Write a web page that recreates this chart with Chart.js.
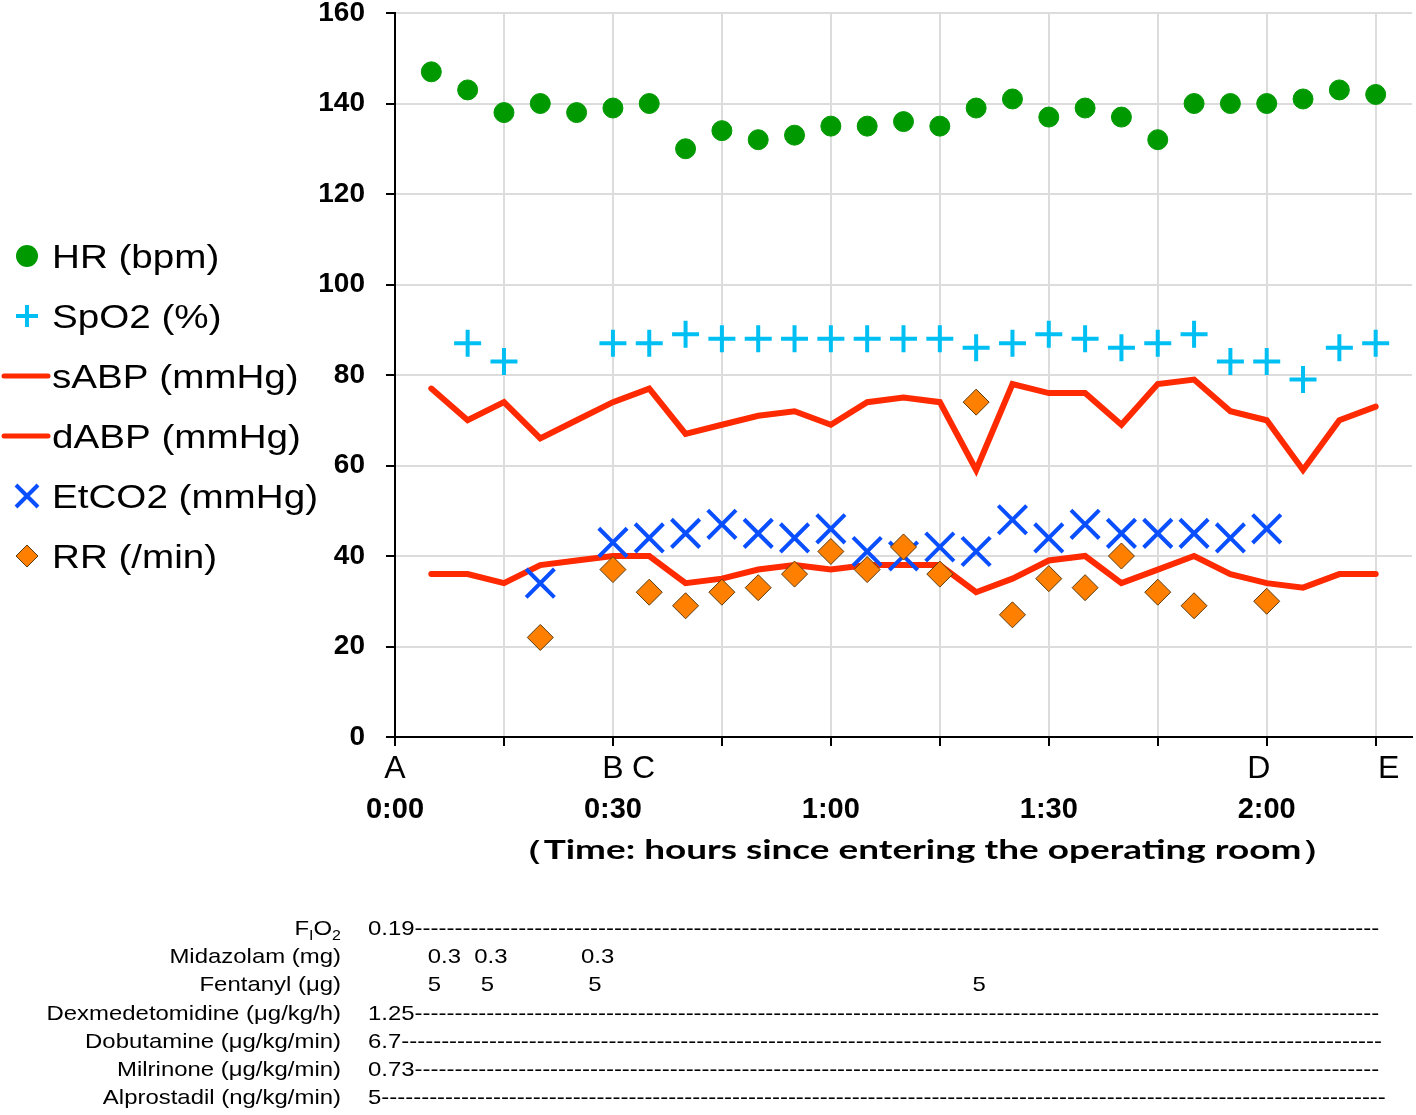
<!DOCTYPE html>
<html>
<head>
<meta charset="utf-8">
<script src="https://cdn.jsdelivr.net/npm/chart.js@4.4.1/dist/chart.umd.min.js"></script>
<style>
  html, body { margin: 0; padding: 0; background: #fff; }
  #wrap { width: 1416px; height: 1115px; }
</style>
</head>
<body>
<div id="wrap"><canvas id="vitals" width="1416" height="1115"></canvas></div>
<script>
// minutes since entering the operating room, one reading every 5 min
const minutes = [5, 10, 15, 20, 25, 30, 35, 40, 45, 50, 55, 60, 65, 70, 75, 80, 85, 90, 95, 100, 105, 110, 115, 120, 125, 130, 135];

const hr    = [147, 143, 138, 140, 138, 139, 140, 130, 134, 132, 133, 135, 135, 136, 135, 139, 141, 137, 139, 137, 132, 140, 140, 140, 141, 143, 142];
const spo2  = [null, 87, 83, null, null, 87, 87, 89, 88, 88, 88, 88, 88, 88, 88, 86, 87, 89, 88, 86, 87, 89, 83, 83, 79, 86, 87];
const sabp  = [77, 70, 74, 66, 70, 74, 77, 67, 69, 71, 72, 69, 74, 75, 74, 59, 78, 76, 76, 69, 78, 79, 72, 70, 59, 70, 73];
const dabp  = [36, 36, 34, 38, 39, 40, 40, 34, 35, 37, 38, 37, 38, 38, 38, 32, 35, 39, 40, 34, 37, 40, 36, 34, 33, 36, 36];
const etco2 = [null, null, null, 34, null, 43, 44, 45, 47, 45, 44, 46, 41, 40, 42, 41, 48, 44, 47, 45, 45, 45, 44, 46, null, null, null];
const rr    = [null, null, null, 22, null, 37, 32, 29, 32, 33, 36, 41, 37, 42, 36, 74, 27, 35, 33, 40, 32, 29, null, 30, null, null, null];

// x axis: tick marks every 15 min, event letters, clock labels
const tickMinutes = [0, 15, 30, 45, 60, 75, 90, 105, 120, 135];
const eventLetters = ['A', 'B', 'C', 'D', 'E'];
const eventMinutes = [0, 30, 34.2, 118.9, 136.8];
const clockLabels = ['0:00', '0:30', '1:00', '1:30', '2:00'];
const clockMinutes = [0, 30, 60, 90, 120];
const axisTitle = '（Time: hours since entering the operating room）';

// drug table under the chart
const drugRows = ['FIO2', 'Midazolam (mg)', 'Fentanyl (μg)', 'Dexmedetomidine (μg/kg/h)', 'Dobutamine (μg/kg/min)', 'Milrinone (μg/kg/min)', 'Alprostadil (ng/kg/min)'];
const infusionRates = ['0.19', null, null, '1.25', '6.7', '0.73', '5'];
const midazolamMinutes = [4.5, 10.9, 25.6];
const midazolamDoses = ['0.3', '0.3', '0.3'];
const fentanylMinutes = [4.5, 11.8, 26.6, 79.5];
const fentanylDoses = ['5', '5', '5', '5'];

const FONT = "'Liberation Sans', Arial, sans-serif";
const GREEN = '#009a00', CYAN = '#00bff2', RED = '#ff2a00', BLUE = '#0a4fff', ORANGE = '#ff8000';
const GRID = '#dcdcdc';

function pts(values) {
  return minutes.map((m, i) => ({ x: m, y: values[i] })).filter(p => p.y !== null);
}

// draw text so that its ink spans exactly left..right
function inkText(c, text, left, right, baseline) {
  c.textAlign = 'left';
  c.textBaseline = 'alphabetic';
  const m = c.measureText(text);
  const w = m.actualBoundingBoxLeft + m.actualBoundingBoxRight;
  c.save();
  c.translate(left, baseline);
  c.scale((right - left) / w, 1);
  c.fillText(text, m.actualBoundingBoxLeft, 0);
  c.restore();
}

function stretched(c, text, x, y, sx, align) {
  c.save();
  c.translate(x, y);
  c.scale(sx, 1);
  c.textAlign = align;
  c.fillText(text, 0, 0);
  c.restore();
}

function drawLegend(c, chart) {
  const ds = chart.data.datasets;
  ds.forEach((d, i) => {
    const y = 256 + i * 60;
    const mx = 27;
    c.save();
    c.fillStyle = d.backgroundColor;
    c.strokeStyle = d.borderColor;
    c.beginPath();
    if (d.showLine) {
      c.lineWidth = 5;
      c.lineCap = 'round';
      c.moveTo(4, y); c.lineTo(48, y);
      c.stroke();
    } else if (d.pointStyle === 'circle') {
      c.arc(mx, y, 11, 0, Math.PI * 2);
      c.fill();
    } else if (d.pointStyle === 'cross') {
      c.lineWidth = 4;
      c.moveTo(mx - 11, y); c.lineTo(mx + 11, y);
      c.moveTo(mx, y - 11); c.lineTo(mx, y + 11);
      c.stroke();
    } else if (d.pointStyle === 'crossRot') {
      c.lineWidth = 4;
      c.moveTo(mx - 11, y - 11); c.lineTo(mx + 11, y + 11);
      c.moveTo(mx + 11, y - 11); c.lineTo(mx - 11, y + 11);
      c.stroke();
    } else {
      c.lineWidth = 1;
      c.moveTo(mx - 11, y); c.lineTo(mx, y - 11); c.lineTo(mx + 11, y); c.lineTo(mx, y + 11);
      c.closePath();
      c.fill(); c.stroke();
    }
    c.restore();
    c.fillStyle = '#000';
    c.font = `33px ${FONT}`;
    stretched(c, d.label, 52, y + 11.5, 1.17, 'left');
  });
}

const TSX = 1.14;
const ROW0 = 935, ROWSTEP = 28.2;
function drawTable(c, x) {
  c.fillStyle = '#000';
  c.textBaseline = 'alphabetic';
  const labelRight = 341, valueLeft = 368, dashEnd = 1386;
  drugRows.forEach((label, i) => {
    const y = ROW0 + i * ROWSTEP;
    c.font = `21px ${FONT}`;
    if (i === 0) {
      // F with subscript I, O with subscript 2
      const parts = [['F', 21, 0], ['I', 14, 5], ['O', 21, 0], ['2', 14, 5]];
      let total = 0;
      parts.forEach(p => { c.font = `${p[1]}px ${FONT}`; total += c.measureText(p[0]).width; });
      let px = labelRight - total * TSX;
      parts.forEach(p => {
        c.font = `${p[1]}px ${FONT}`;
        stretched(c, p[0], px, y + p[2], TSX, 'left');
        px += c.measureText(p[0]).width * TSX;
      });
      c.font = `21px ${FONT}`;
    } else {
      stretched(c, label, labelRight, y, TSX, 'right');
    }
    const rate = infusionRates[i];
    if (rate !== null) {
      const avail = (dashEnd - valueLeft) / TSX;
      const n = Math.floor((avail - c.measureText(rate).width) / c.measureText('-').width);
      stretched(c, rate + '-'.repeat(n), valueLeft, y, TSX, 'left');
    }
  });
  const yMid = ROW0 + ROWSTEP, yFen = ROW0 + 2 * ROWSTEP;
  midazolamMinutes.forEach((m, i) => stretched(c, midazolamDoses[i], x.getPixelForValue(m), yMid, TSX, 'left'));
  fentanylMinutes.forEach((m, i) => stretched(c, fentanylDoses[i], x.getPixelForValue(m), yFen, TSX, 'left'));
}

const annotate = {
  id: 'annotate',
  afterDraw(chart) {
    const c = chart.ctx, x = chart.scales.x;
    c.save();
    c.fillStyle = '#000';
    c.textBaseline = 'alphabetic';
    c.textAlign = 'center';
    c.font = `32px ${FONT}`;
    eventLetters.forEach((l, i) => c.fillText(l, x.getPixelForValue(eventMinutes[i]), 778));
    c.font = `bold 29px ${FONT}`;
    clockLabels.forEach((l, i) => c.fillText(l, x.getPixelForValue(clockMinutes[i]), 818));
    c.font = `bold 27px Lato, ${FONT}`;
    inkText(c, axisTitle, 530, 1315, 859);
    drawLegend(c, chart);
    drawTable(c, x);
    c.restore();
  }
};

const ctx = document.getElementById('vitals').getContext('2d');
new Chart(ctx, {
  type: 'scatter',
  data: {
    datasets: [
      { label: 'HR (bpm)', data: pts(hr), pointStyle: 'circle', pointRadius: 10, pointBorderWidth: 1,
        backgroundColor: GREEN, borderColor: GREEN, order: 2 },
      { label: 'SpO2 (%)', data: pts(spo2), pointStyle: 'cross', pointRadius: 13.5, pointBorderWidth: 4,
        backgroundColor: CYAN, borderColor: CYAN, order: 3 },
      { label: 'sABP (mmHg)', data: pts(sabp), showLine: true, pointRadius: 0, borderWidth: 6,
        borderCapStyle: 'round', backgroundColor: RED, borderColor: RED, order: 4 },
      { label: 'dABP (mmHg)', data: pts(dabp), showLine: true, pointRadius: 0, borderWidth: 6,
        borderCapStyle: 'round', backgroundColor: RED, borderColor: RED, order: 5 },
      { label: 'EtCO2 (mmHg)', data: pts(etco2), pointStyle: 'crossRot', pointRadius: 20, pointBorderWidth: 4,
        backgroundColor: BLUE, borderColor: BLUE, order: 1 },
      { label: 'RR (/min)', data: pts(rr), pointStyle: 'rectRot', pointRadius: 13, pointBorderWidth: 1,
        backgroundColor: ORANGE, borderColor: '#5a3a10', order: 0 }
    ]
  },
  options: {
    responsive: false,
    animation: false,
    events: [],
    layout: { autoPadding: false, padding: { top: 13, right: 4, left: 0, bottom: 0 } },
    plugins: { legend: { display: false }, tooltip: { enabled: false } },
    scales: {
      x: {
        type: 'linear', min: 0, max: 140,
        afterBuildTicks: s => { s.ticks = tickMinutes.map(v => ({ value: v })); },
        afterFit: s => { s.height = 378; s.paddingLeft = 0; s.paddingRight = 0; },
        ticks: { display: false },
        grid: { color: GRID, lineWidth: 2, tickLength: 9, tickColor: '#000', tickWidth: 2 },
        border: { color: '#000', width: 2 }
      },
      y: {
        min: 0, max: 160,
        ticks: { stepSize: 20, padding: 21, color: '#000', font: { family: FONT, size: 28, weight: 'bold' } },
        afterFit: s => { s.width = 395; s.paddingTop = 0; s.paddingBottom = 0; },
        grid: { color: GRID, lineWidth: 2, tickLength: 9, tickColor: '#000', tickWidth: 2 },
        border: { color: '#000', width: 2 }
      }
    }
  },
  plugins: [annotate]
});
</script>
</body>
</html>
